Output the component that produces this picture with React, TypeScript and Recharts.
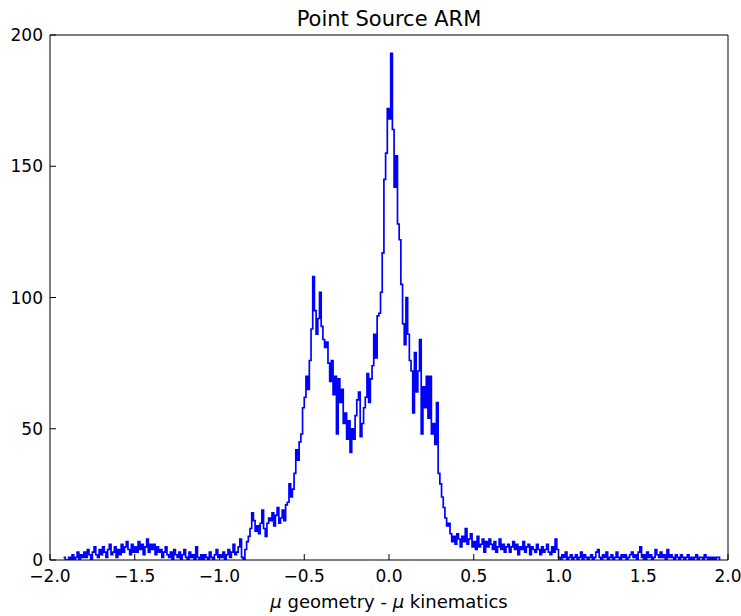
import { Line, LineChart, XAxis, YAxis } from "recharts";

// histogram of mu_geometry - mu_kinematics, bins 0.01 wide starting at -1.92
const BIN_START = -1.92;
const BIN_WIDTH = 0.01;

// -1.92 .. -0.91
const leftTail = [
  1, 0,
  0, 1, 0, 2, 0, 1, 3, 0, 2, 1,
  3, 1, 4, 2, 0, 3, 5, 2, 1, 4,
  2, 5, 3, 1, 4, 6, 2, 3, 5, 1,
  4, 2, 6, 3, 5, 7, 4, 2, 6, 3,
  5, 3, 7, 4, 6, 2, 5, 8, 3, 6,
  4, 6, 2, 5, 3, 4, 1, 3, 5, 2,
  1, 3, 0, 4, 2, 1, 3, 0, 2, 4,
  1, 0, 3, 1, 2, 0, 5, 1, 0, 2,
  0, 2, 1, 0, 3, 1, 0, 2, 4, 1,
  2, 1, 3, 0, 2, 4, 1, 3, 6, 2,
];

// -0.90 .. -0.51
const leftRise = [
  3, 5, 8, 1, 0, 4, 7, 9, 12, 18,
  15, 11, 13, 10, 14, 19, 12, 9, 14, 16,
  15, 18, 13, 17, 20, 14, 16, 19, 15, 21,
  22, 29, 24, 27, 33, 42, 38, 45, 48, 58,
];

// -0.50 .. 0.39
const core = [
  62, 70, 65, 76, 88, 108, 95, 86, 92, 102,
  89, 84, 81, 83, 75, 68, 76, 63, 70, 48,
  69, 60, 65, 52, 56, 46, 53, 41, 50, 46,
  55, 61, 64, 47, 52, 58, 62, 71, 60, 69,
  74, 86, 77, 93, 94, 102, 117, 145, 155, 172,
  168, 193, 164, 142, 154, 128, 122, 105, 90, 82,
  100, 86, 76, 72, 56, 79, 64, 72, 84, 48,
  66, 58, 70, 54, 70, 48, 52, 44, 60, 33,
  29, 24, 20, 16, 13, 14, 10, 7, 9, 6,
];

// 0.40 .. 1.95
const rightTail = [
  10, 8, 5, 9, 7, 12, 6, 8, 10, 5,
  7, 4, 9, 5, 6, 8, 3, 7, 5, 8,
  6, 4, 7, 3, 5, 8, 4, 6, 3, 5,
  6, 3, 5, 7, 4, 6, 2, 5, 4, 7,
  3, 5, 6, 2, 5, 4, 3, 6, 4, 2,
  5, 3, 4, 6, 3, 2, 5, 3, 8, 4,
  1, 0, 2, 1, 3, 0, 1, 2, 0, 1,
  2, 0, 1, 3, 0, 2, 1, 0, 1, 2,
  0, 1, 3, 4, 1, 0, 2, 1, 3, 0,
  1, 2, 0, 1, 3, 1, 0, 2, 1, 2,
  0, 1, 2, 3, 1, 2, 0, 3, 5, 1,
  2, 0, 3, 1, 2, 0, 1, 4, 2, 1,
  3, 1, 2, 0, 4, 1, 2, 1, 0, 2,
  1, 0, 2, 1, 0, 1, 2, 0, 1, 0,
  1, 2, 0, 1, 1, 0, 2, 1, 0, 1,
  0, 1, 0, 1, 1, 0,
];

const xTicks = [-2, -1.5, -1, -0.5, 0, 0.5, 1, 1.5, 2];
const yTicks = [0, 50, 100, 150, 200];

const counts = [...leftTail, ...leftRise, ...core, ...rightTail];
const data = counts.map((c, i) => ({
  x: Math.round((BIN_START + i * BIN_WIDTH) * 100) / 100,
  count: c,
}));

const FONT = "'DejaVu Sans', sans-serif";
const tickStyle = { fill: "#000", fontSize: 17, fontFamily: FONT };
const fmtX = (v: number) => v.toFixed(1).replace("-", "\u2212");

export default function App() {
  return (
    <div style={{ position: "absolute", left: 0, top: 0, width: 741, height: 616, background: "#fff" }}>
      <div
        style={{
          position: "absolute",
          left: 50,
          width: 678,
          top: 7,
          textAlign: "center",
          fontFamily: FONT,
          fontSize: 21,
          color: "#000",
        }}
      >
        Point Source ARM
      </div>
      <LineChart width={741} height={616} data={data} margin={{ top: 34, right: 12, bottom: 26, left: 5 }}>
        <XAxis
          xAxisId="b"
          dataKey="x"
          type="number"
          domain={[-2, 2]}
          ticks={xTicks}
          allowDataOverflow
          height={30}
          tickSize={-6}
          tickMargin={16}
          tick={tickStyle}
          tickFormatter={fmtX}
          stroke="#000"
          interval={0}
        />
        <XAxis
          xAxisId="t"
          orientation="top"
          dataKey="x"
          type="number"
          domain={[-2, 2]}
          ticks={xTicks}
          allowDataOverflow
          height={1}
          tickSize={-6}
          tick={false}
          stroke="#000"
          interval={0}
        />
        <YAxis
          yAxisId="l"
          type="number"
          domain={[0, 200]}
          ticks={yTicks}
          allowDataOverflow
          width={45}
          tickSize={-6}
          tickMargin={13}
          tick={tickStyle}
          stroke="#000"
          interval={0}
        />
        <YAxis
          yAxisId="r"
          orientation="right"
          type="number"
          domain={[0, 200]}
          ticks={yTicks}
          allowDataOverflow
          width={1}
          tickSize={-6}
          tick={false}
          stroke="#000"
          interval={0}
        />
        {/* invisible copy so the top/right frame axes get drawn */}
        <Line
          xAxisId="t"
          yAxisId="r"
          type="stepAfter"
          dataKey="count"
          stroke="none"
          dot={false}
          legendType="none"
          isAnimationActive={false}
        />
        <Line
          xAxisId="b"
          yAxisId="l"
          type="stepAfter"
          dataKey="count"
          stroke="#0000ff"
          strokeWidth={1.7}
          dot={false}
          isAnimationActive={false}
        />
      </LineChart>
      <div
        style={{
          position: "absolute",
          left: 50,
          width: 678,
          top: 591,
          textAlign: "center",
          fontFamily: FONT,
          fontSize: 18,
          color: "#000",
        }}
      >
        <i>μ</i> geometry - <i>μ</i> kinematics
      </div>
    </div>
  );
}
